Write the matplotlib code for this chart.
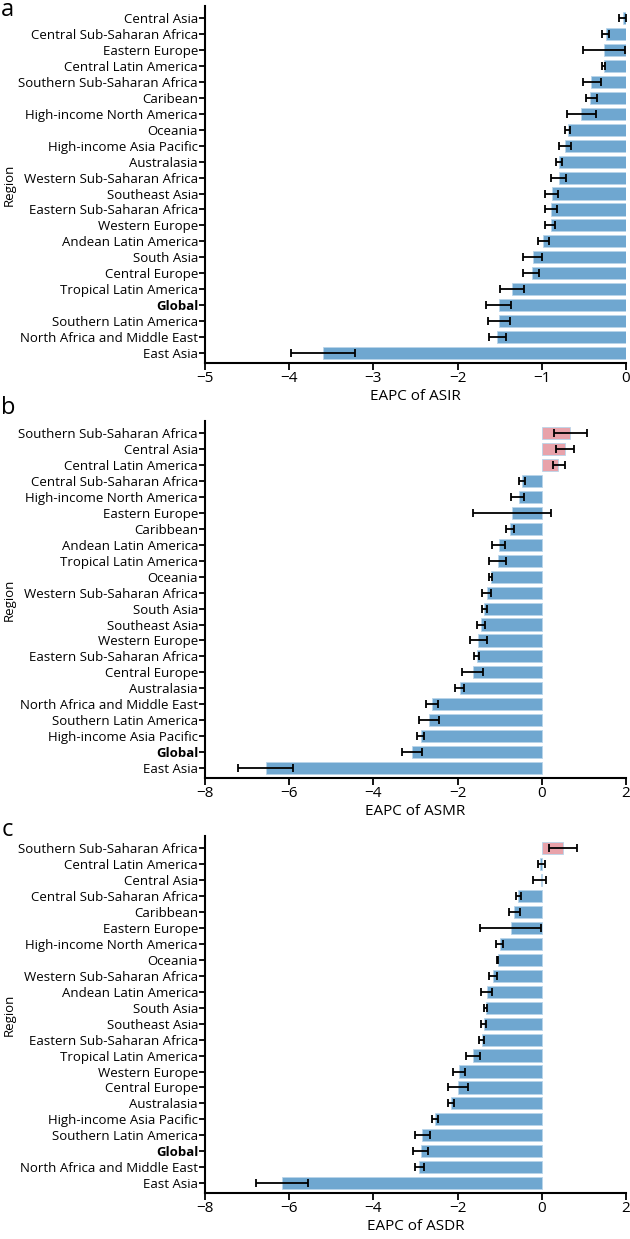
import numpy as np
import matplotlib.pyplot as plt

plt.rcParams['font.family'] = ['Open Sans', 'DejaVu Sans']

# Panel a: EAPC of ASIR (top row first)
asir_regions = ["Central Asia", "Central Sub-Saharan Africa", "Eastern Europe", "Central Latin America",
                "Southern Sub-Saharan Africa", "Caribean", "High-income North America", "Oceania",
                "High-income Asia Pacific", "Australasia", "Western Sub-Saharan Africa", "Southeast Asia",
                "Eastern Sub-Saharan Africa", "Western Europe", "Andean Latin America", "South Asia",
                "Central Europe", "Tropical Latin America", "Global", "Southern Latin America",
                "North Africa and Middle East", "East Asia"]
asir_eapc = [-0.04, -0.24, -0.26, -0.26, -0.41, -0.43, -0.53, -0.69, -0.72, -0.79, -0.80, -0.88,
             -0.89, -0.89, -0.98, -1.11, -1.12, -1.35, -1.51, -1.51, -1.53, -3.60]
asir_low = [-0.08, -0.28, -0.51, -0.29, -0.51, -0.48, -0.70, -0.73, -0.79, -0.83, -0.89, -0.96,
            -0.96, -0.96, -1.05, -1.22, -1.22, -1.50, -1.66, -1.64, -1.63, -3.98]
asir_high = [0.0, -0.20, -0.01, -0.25, -0.30, -0.35, -0.36, -0.66, -0.65, -0.76, -0.71, -0.81,
             -0.82, -0.84, -0.92, -1.00, -1.03, -1.21, -1.36, -1.38, -1.43, -3.22]

# Panel b: EAPC of ASMR
asmr_regions = ["Southern Sub-Saharan Africa", "Central Asia", "Central Latin America",
                "Central Sub-Saharan Africa", "High-income North America", "Eastern Europe", "Caribbean",
                "Andean Latin America", "Tropical Latin America", "Oceania", "Western Sub-Saharan Africa",
                "South Asia", "Southeast Asia", "Western Europe", "Eastern Sub-Saharan Africa",
                "Central Europe", "Australasia", "North Africa and Middle East", "Southern Latin America",
                "High-income Asia Pacific", "Global", "East Asia"]
asmr_eapc = [0.67, 0.54, 0.39, -0.47, -0.55, -0.71, -0.75, -1.02, -1.04, -1.21, -1.31,
             -1.37, -1.45, -1.51, -1.55, -1.63, -1.95, -2.60, -2.68, -2.87, -3.08, -6.56]
asmr_low = [0.30, 0.34, 0.27, -0.54, -0.73, -1.63, -0.86, -1.18, -1.25, -1.25, -1.43,
            -1.43, -1.54, -1.71, -1.61, -1.90, -2.07, -2.75, -2.91, -2.96, -3.31, -7.21]
asmr_high = [1.08, 0.76, 0.55, -0.40, -0.42, 0.23, -0.65, -0.88, -0.84, -1.18, -1.21,
             -1.30, -1.35, -1.30, -1.49, -1.40, -1.84, -2.47, -2.45, -2.79, -2.85, -5.90]

# Panel c: EAPC of ASDR
asdr_regions = ["Southern Sub-Saharan Africa", "Central Latin America", "Central Asia",
                "Central Sub-Saharan Africa", "Caribbean", "Eastern Europe", "High-income North America",
                "Oceania", "Western Sub-Saharan Africa", "Andean Latin America", "South Asia",
                "Southeast Asia", "Eastern Sub-Saharan Africa", "Tropical Latin America", "Western Europe",
                "Central Europe", "Australasia", "High-income Asia Pacific", "Southern Latin America",
                "Global", "North Africa and Middle East", "East Asia"]
asdr_eapc = [0.50, -0.04, -0.02, -0.56, -0.67, -0.74, -0.99, -1.05, -1.17, -1.31, -1.33,
             -1.38, -1.43, -1.63, -1.97, -1.99, -2.16, -2.53, -2.85, -2.88, -2.91, -6.17]
asdr_low = [0.16, -0.09, -0.20, -0.62, -0.79, -1.46, -1.08, -1.07, -1.25, -1.44, -1.38,
            -1.44, -1.49, -1.81, -2.10, -2.23, -2.23, -2.60, -3.02, -3.07, -3.00, -6.78]
asdr_high = [0.84, 0.07, 0.11, -0.50, -0.52, -0.01, -0.91, -1.03, -1.06, -1.18, -1.29,
             -1.32, -1.38, -1.46, -1.83, -1.76, -2.09, -2.47, -2.66, -2.71, -2.80, -5.56]

BLUE = "#6fa7d0"
PINK = "#e8a2aa"

fig = plt.figure(figsize=(6.3, 12.39), dpi=100)

panels = [
    (asir_regions, asir_eapc, asir_low, asir_high, "EAPC of ASIR", (-5, 0), [-5, -4, -3, -2, -1, 0], 0.7070, "a", 0.992),
    (asmr_regions, asmr_eapc, asmr_low, asmr_high, "EAPC of ASMR", (-8, 2), [-8, -6, -4, -2, 0, 2], 0.3720, "b", 0.671),
    (asdr_regions, asdr_eapc, asdr_low, asdr_high, "EAPC of ASDR", (-8, 2), [-8, -6, -4, -2, 0, 2], 0.0370, "c", 0.330),
]

for regions, eapc, low, high, xlabel, xlim, xticks, bottom, letter, ly in panels:
    ax = fig.add_axes([205 / 630, bottom, 421 / 630, 0.2880])
    eapc = np.array(eapc)
    y = np.arange(len(regions))
    colors = [PINK if v > 0 else BLUE for v in eapc]
    ax.barh(y, eapc, height=0.76, color=colors, edgecolor="#b9d5ea", linewidth=0.6, zorder=2)
    xerr = [eapc - np.array(low), np.array(high) - eapc]
    ax.errorbar(eapc, y, xerr=xerr, fmt="none", ecolor="black", elinewidth=1.3,
                capsize=3, capthick=1.3, zorder=3)
    ax.set_ylim(len(regions) - 1 + 0.63, -0.75)
    ax.set_xlim(*xlim)
    ax.set_xticks(xticks)
    ax.set_xticklabels([str(t).replace("-", "\u2212") for t in xticks], fontsize=11)
    ax.set_yticks(y)
    ax.set_yticklabels(regions, fontsize=9.5)
    for lab in ax.get_yticklabels():
        if lab.get_text() == "Global":
            lab.set_fontweight("bold")
    for s in ["top", "right"]:
        ax.spines[s].set_visible(False)
    for s in ["left", "bottom"]:
        ax.spines[s].set_linewidth(1.5)
    ax.tick_params(axis="y", length=4, width=1.3, pad=1)
    ax.tick_params(axis="x", length=5, width=1.3, pad=1)
    ax.set_xlabel(xlabel, fontsize=11, labelpad=2)
    ax.set_ylabel("Region", fontsize=9.5)
    ax.yaxis.set_label_coords(-0.45, 0.5)
    fig.text(0.002, ly, letter, fontsize=17, va="center", ha="left")

fig.savefig("out.png", dpi=100)
